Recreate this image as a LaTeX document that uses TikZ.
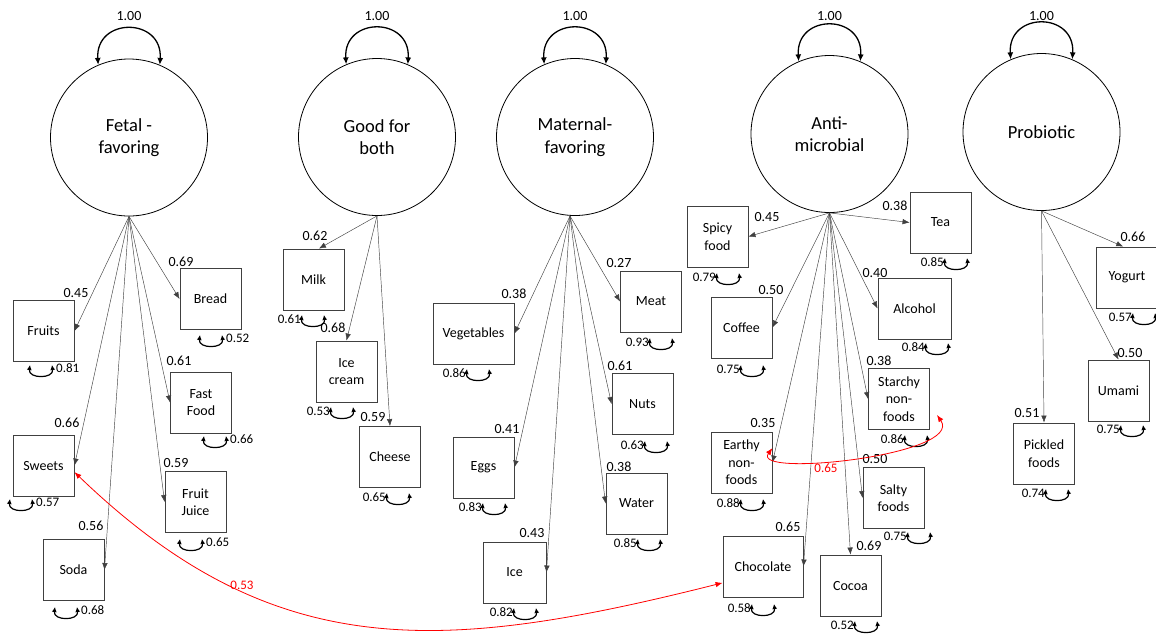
\documentclass[tikz,border=0pt]{standalone}
\usepackage{fontspec}
\setmainfont{Carlito}
\usetikzlibrary{arrows.meta,calc}
\newcommand\rsR[4][]{%
  \draw[resloop] (#2,#3) .. controls ({#2-2},{#3+14}) and ({#2+24},{#3+14}) .. ({#2+22},#3);
  \node[reslbl,anchor=west] at ({#2+26},{#3+3}) {#4};}
\newcommand\rsL[4][]{%
  \draw[resloop] (#2,#3) .. controls ({#2-2},{#3+14}) and ({#2+24},{#3+14}) .. ({#2+22},#3);
  \node[reslbl,anchor=east] at ({#2-1},{#3+4}) {#4};}
\begin{document}
\begin{tikzpicture}[x=1pt,y=-1pt,
  lat/.style={circle,draw,line width=0.8pt,minimum size=157pt,inner sep=0pt,align=center,font=\fontsize{18.5}{22.5}\selectfont},
  obs/.style={rectangle,draw=black!75,line width=0.9pt,minimum width=61pt,minimum height=61pt,inner sep=1pt,align=center,font=\fontsize{14}{17.5}\selectfont},
  load/.style={-{Latex[length=7pt,width=5.5pt]},line width=0.45pt,draw=black!75},
  ldlbl/.style={inner sep=0pt,font=\fontsize{14}{16}\selectfont},
  reslbl/.style={inner sep=0pt,font=\fontsize{13}{15}\selectfont},
  resloop/.style={{Latex[length=5pt,width=5pt]}-{Latex[length=5pt,width=5pt]},line width=1.2pt},
  toploop/.style={{Latex[length=7pt,width=6pt]}-{Latex[length=7pt,width=6pt]},line width=1.3pt},
  corr/.style={{Latex[length=7pt,width=5.5pt]}-{Latex[length=7pt,width=5.5pt]},line width=0.8pt,draw=red},
  redlbl/.style={inner sep=0pt,text=red,font=\fontsize{13}{15}\selectfont}]
\useasboundingbox (0,0) rectangle (1156,633);

% ---------- latent variables ----------
\node[lat] (fet) at (129,137.5) {Fetal -\\favoring};
\node[lat] (good) at (377,137) {Good for\\both};
\node[lat] (mat) at (575,137) {Maternal-\\favoring};
\node[lat] (ant) at (829.5,134) {Anti-\\microbial};
\node[lat] (pro) at (1041.5,132) {Probiotic};
\coordinate (matS) at (570,216);

\foreach \n/\x in {fet/129,good/377,mat/575,ant/829.5,pro/1041.5}{
  \draw[toploop] (\n.113) .. controls +(-3,-48) and +(3,-48) .. (\n.67);
  \node[ldlbl] at (\x,16) {1.00};
}

% ---------- Fetal-favoring ----------
\node[obs] (fruits) at (43.5,331) {Fruits};
\node[obs] (bread) at (210.5,299) {Bread};
\node[obs] (fast) at (201,402.5) {Fast\\Food};
\node[obs] (sweets) at (43.5,465.5) {Sweets};
\node[obs] (juice) at (195.5,502) {Fruit\\Juice};
\node[obs] (soda) at (73.5,570) {Soda};
\draw[load] (fet.south) -- (fruits.east);
\draw[load] (fet.south) -- (bread.west);
\draw[load] (fet.south) -- (fast.west);
\draw[load] (fet.south) -- (sweets.east);
\draw[load] (fet.south) -- (juice.west);
\draw[load] (fet.south) -- (soda.east);
\node[ldlbl] at (76,293) {0.45};
\node[ldlbl] at (181,262) {0.69};
\node[ldlbl] at (179,361) {0.61};
\node[ldlbl] at (67,423) {0.66};
\node[ldlbl] at (176,463) {0.59};
\node[ldlbl] at (91,526) {0.56};
\rsR{30}{365}{0.81}
\rsR{200}{335}{0.52}
\rsR{204}{436}{0.66}
\rsR{10}{499}{0.57}
\rsR{180}{539}{0.65}
\rsR{55}{607}{0.68}

% ---------- Good for both ----------
\node[obs] (milk) at (313.5,279.5) {Milk};
\node[obs] (icecream) at (346.5,371.5) {Ice\\cream};
\node[obs] (cheese) at (390,457) {Cheese};
\draw[load] (good.south) -- (milk.80);
\draw[load] (good.south) -- (icecream.north);
\draw[load] (good.south) -- (cheese.north);
\node[ldlbl] at (315,236) {0.62};
\node[ldlbl] at (333,328) {0.68};
\node[ldlbl] at (373,417) {0.59};
\rsL{302}{315}{0.61}
\rsL{331}{407}{0.53}
\rsL{387}{493}{0.65}

% ---------- Maternal-favoring ----------
\node[obs,minimum width=81pt] (veg) at (473.5,333.5) {Vegetables};
\node[obs] (meat) at (651,301.5) {Meat};
\node[obs] (nuts) at (642.5,404) {Nuts};
\node[obs] (eggs) at (483.5,467.5) {Eggs};
\node[obs] (water) at (636.5,503.5) {Water};
\node[obs,minimum width=63pt] (ice) at (514.5,572.5) {Ice};
\draw[load] (matS) -- (veg.east);
\draw[load] (matS) -- (meat.west);
\draw[load] (matS) -- (nuts.west);
\draw[load] (matS) -- (eggs.east);
\draw[load] (matS) -- (water.west);
\draw[load] (matS) -- (ice.east);
\node[ldlbl] at (514,294) {0.38};
\node[ldlbl] at (619,263) {0.27};
\node[ldlbl] at (620,366) {0.61};
\node[ldlbl] at (507,429) {0.41};
\node[ldlbl] at (619,467) {0.38};
\node[ldlbl] at (532,533) {0.43};
\rsL{467}{369}{0.86}
\rsL{650}{338}{0.93}
\rsL{645}{441}{0.63}
\rsL{483}{503}{0.83}
\rsL{638}{539}{0.85}
\rsL{514}{608}{0.82}

% ---------- Anti-microbial ----------
\node[obs] (spicy) at (717.5,236.5) {Spicy\\food};
\node[obs] (tea) at (940.5,222.5) {Tea};
\node[obs] (coffee) at (741.5,327.5) {Coffee};
\node[obs,minimum width=73pt] (alcohol) at (914.5,308.5) {Alcohol};
\node[obs] (starchy) at (899,399) {Starchy\\non-\\foods};
\node[obs] (earthy) at (741.5,462.5) {Earthy\\non-\\foods};
\node[obs] (salty) at (893.5,498) {Salty\\foods};
\node[obs,minimum width=80pt] (choc) at (763,566.5) {Chocolate};
\node[obs] (cocoa) at (850.5,585.5) {Cocoa};
\draw[load] (ant.south) -- (spicy.east);
\draw[load] (ant.south) -- (tea.west);
\draw[load] (ant.south) -- (coffee.east);
\draw[load] (ant.south) -- (alcohol.west);
\draw[load] (ant.south) -- (starchy.west);
\draw[load] (ant.south) -- (earthy.east);
\draw[load] (ant.south) -- (salty.west);
\draw[load] (ant.south) -- (choc.east);
\draw[load] (ant.south) -- (cocoa.north);
\node[ldlbl] at (767,217) {0.45};
\node[ldlbl] at (895,206) {0.38};
\node[ldlbl] at (771,290) {0.50};
\node[ldlbl] at (875,273) {0.40};
\node[ldlbl] at (879,361) {0.38};
\node[ldlbl] at (763,423) {0.35};
\node[ldlbl] at (875,459) {0.50};
\node[ldlbl] at (788,527) {0.65};
\node[ldlbl] at (869,546) {0.69};
\rsL{717}{273}{0.79}
\rsL{945}{258}{0.85}
\rsL{741}{365}{0.75}
\rsL{926}{343}{0.84}
\rsL{905}{435}{0.86}
\rsL{741}{499}{0.88}
\rsL{908}{532}{0.75}
\rsL{752}{604}{0.58}
\rsL{855}{621}{0.52}

% ---------- Probiotic ----------
\node[obs] (yogurt) at (1127,277.5) {Yogurt};
\node[obs] (umami) at (1118.5,390.5) {Umami};
\node[obs] (pickled) at (1044,453.5) {Pickled\\foods};
\draw[load] (pro.south) -- (yogurt.97);
\draw[load] (pro.south) -- (umami.north);
\draw[load] (pro.south) -- (pickled.north);
\node[ldlbl] at (1133,237) {0.66};
\node[ldlbl] at (1130,353) {0.50};
\node[ldlbl] at (1027,413) {0.51};
\rsL{1133}{313}{0.57}
\rsL{1121}{425}{0.75}
\rsL{1046}{489}{0.74}

% ---------- correlations ----------
\draw[corr] (sweets.-12) .. controls (274,664) and (440,654) .. (choc.202);
\node[redlbl] at (242,585) {0.53};
\draw[corr] (earthy.25) .. controls (750,478) and (965,455) .. ([xshift=7pt,yshift=15pt]starchy.south east);
\node[redlbl] at (826,468) {0.65};
\end{tikzpicture}
\end{document}
